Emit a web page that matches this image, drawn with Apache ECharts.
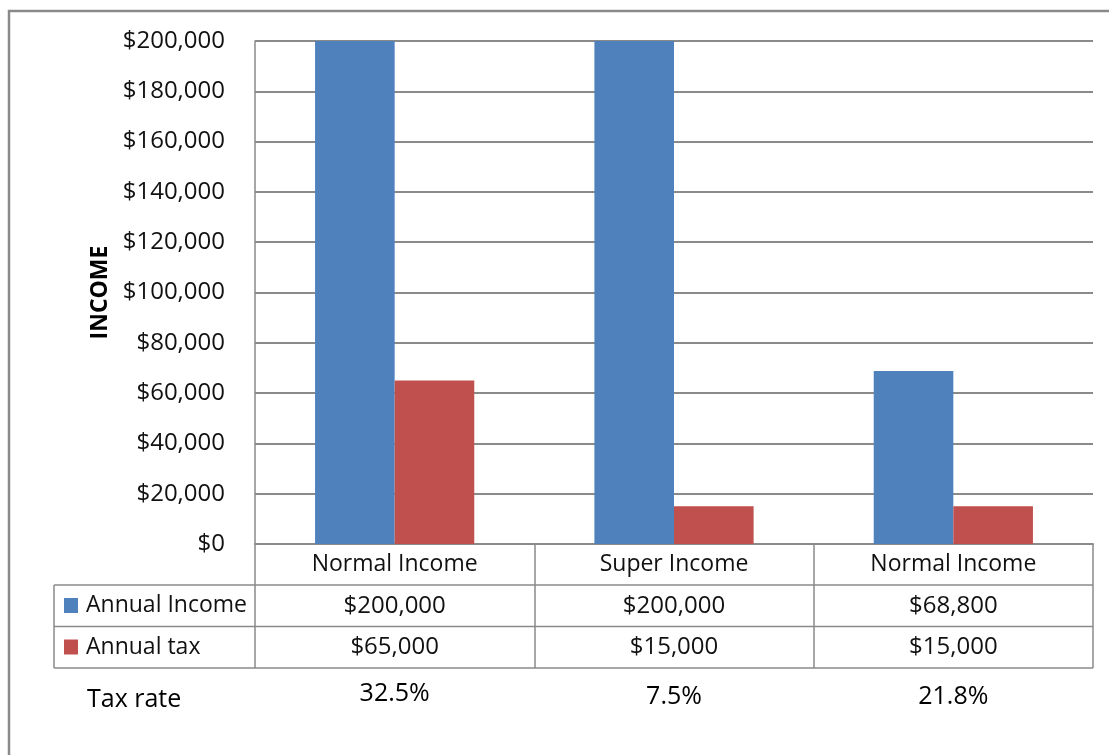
<!DOCTYPE html>
<html>
<head>
<meta charset="utf-8">
<script src="https://cdn.jsdelivr.net/npm/echarts@6/dist/echarts.min.js"></script>
<style>
html,body{margin:0;padding:0;background:#fff;}
#chart{width:1109px;height:755px;}
</style>
</head>
<body>
<div id="chart"></div>
<script>
const categories = ['Normal Income', 'Super Income', 'Normal Income'];
const seriesNames = ['Annual Income', 'Annual tax'];
const annualIncome = [200000, 200000, 68800];
const annualTax = [65000, 15000, 15000];
const taxRateLabel = 'Tax rate';
const taxRates = ['32.5%', '7.5%', '21.8%'];
const yAxisName = 'INCOME';

const FONT = '"Open Sans", "Noto Sans", sans-serif';
const BLUE = '#4F81BD', RED = '#C0504D';
const LINE = '#8a8a8a';
const fmt = v => '$' + Number(v).toLocaleString('en-US');

const chart = echarts.init(document.getElementById('chart'), null, {renderer: 'canvas'});

chart.setOption({
  animation: false,
  color: [BLUE, RED],
  textStyle: {fontFamily: FONT},
  grid: {left: 255, right: 16, top: 41, bottom: 211, containLabel: false},
  legend: {
    orient: 'vertical', left: 64, top: 594, itemGap: 18.5, padding: 0,
    itemWidth: 14, itemHeight: 15, icon: 'rect', selectedMode: false,
    data: seriesNames,
    textStyle: {fontFamily: FONT, fontSize: 23, color: '#111', lineHeight: 23, padding: [0, 0, 0, 3]}
  },
  xAxis: {
    type: 'category', data: categories,
    axisLine: {show: true, lineStyle: {color: LINE, width: 2}},
    axisTick: {show: true, interval: 0, length: 124, lineStyle: {color: LINE, width: 1.5}},
    axisLabel: {interval: 0, margin: 9, fontFamily: FONT, fontSize: 23, color: '#111'},
    splitLine: {show: false}
  },
  yAxis: {
    type: 'value', min: 0, max: 200000, interval: 20000,
    name: yAxisName, nameLocation: 'middle', nameRotate: 90, nameGap: 141,
    nameTextStyle: {fontFamily: FONT, fontSize: 23, fontWeight: 'bold', color: '#000'},
    axisLine: {show: true, lineStyle: {color: LINE, width: 1.5}},
    axisTick: {show: false},
    axisLabel: {formatter: fmt, margin: 30, fontFamily: FONT, fontSize: 24, color: '#111'},
    splitLine: {show: true, lineStyle: {color: LINE, width: 2}}
  },
  series: [
    {name: seriesNames[0], type: 'bar', data: annualIncome, barGap: '0%', barCategoryGap: '43%'},
    {name: seriesNames[1], type: 'bar', data: annualTax, barGap: '0%', barCategoryGap: '43%'}
  ]
});

// Data table and tax-rate row, positioned through the chart's own category axis
const xs = categories.map((c, i) => chart.convertToPixel({xAxisIndex: 0}, i));
const plotRight = 1093, tableLeft = 54;
const rowTop = 585, rowMid = 626.5, rowBottom = 668;
const g = [];
g.push({type: 'rect', shape: {x: 9, y: 11, width: 1120, height: 760}, style: {fill: 'none', stroke: LINE, lineWidth: 2.5}, silent: true});
[rowTop, rowMid, rowBottom].forEach(y => {
  g.push({type: 'line', shape: {x1: tableLeft, y1: y, x2: plotRight, y2: y}, style: {stroke: LINE, lineWidth: 1.5}, silent: true});
});
g.push({type: 'line', shape: {x1: tableLeft, y1: rowTop, x2: tableLeft, y2: rowBottom}, style: {stroke: LINE, lineWidth: 1.5}, silent: true});
[annualIncome, annualTax].forEach((arr, r) => {
  const cy = r === 0 ? (rowTop + rowMid) / 2 : (rowMid + rowBottom) / 2;
  arr.forEach((v, i) => {
    g.push({type: 'text', x: xs[i], y: cy, style: {text: fmt(v), font: '24px ' + FONT, fill: '#111', align: 'center', verticalAlign: 'middle'}, silent: true});
  });
});
g.push({type: 'text', x: 87, y: 700, style: {text: taxRateLabel, font: '25px ' + FONT, fill: '#000', align: 'left', verticalAlign: 'middle'}, silent: true});
taxRates.forEach((t, i) => {
  g.push({type: 'text', x: xs[i], y: i === 0 ? 694 : 697, style: {text: t, font: '25px ' + FONT, fill: '#000', align: 'center', verticalAlign: 'middle'}, silent: true});
});
chart.setOption({graphic: g});
</script>
</body>
</html>
